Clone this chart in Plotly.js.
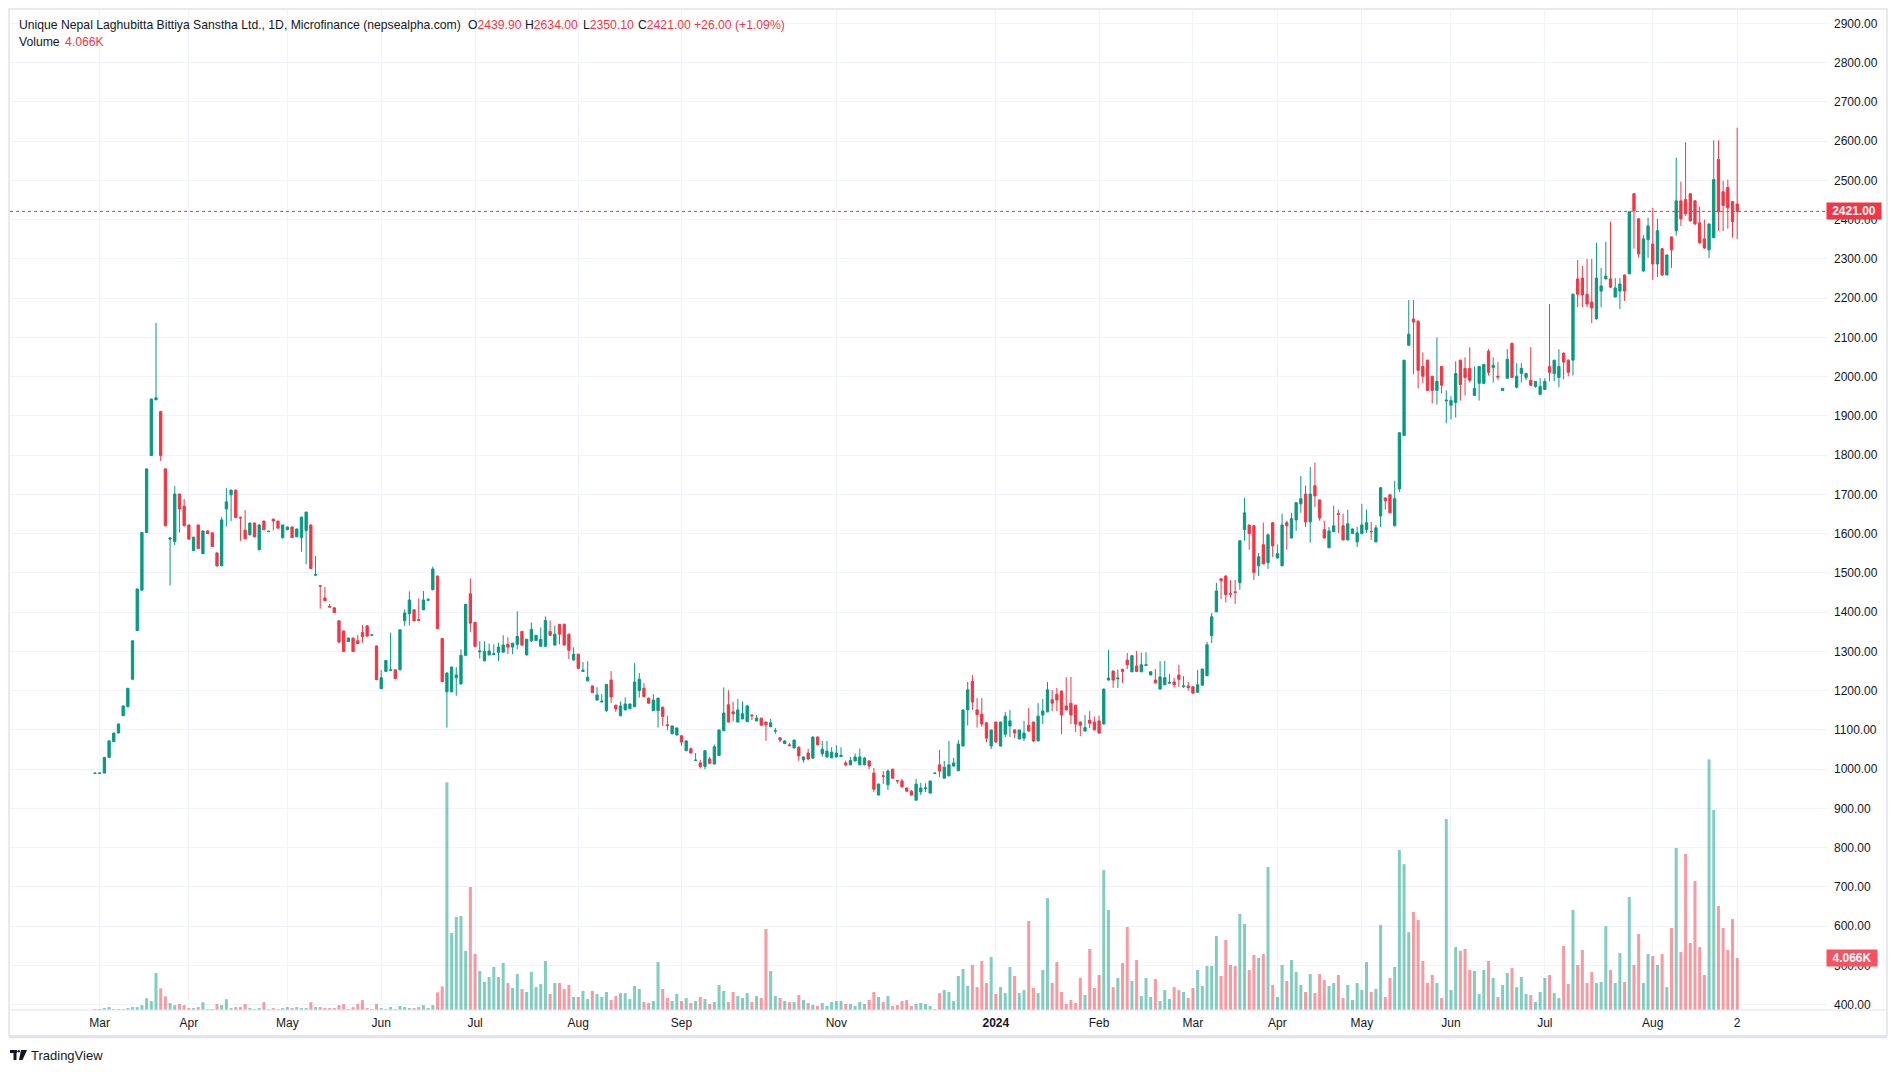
<!DOCTYPE html>
<html><head><meta charset="utf-8">
<script src="https://cdn.plot.ly/plotly-3.0.1.min.js"></script>
<style>html,body{margin:0;padding:0;background:#fff;}#chart{width:1897px;height:1072px;}</style>
</head><body><div id="chart"></div><script>
// ---- data (daily candles, volume in thousands) ----
const open=[989,989,990,1030,1070,1092,1136,1159,1229,1353,
1456,1603,1799,1941,1911,1765,1586,1580,1701,1670,
1622,1557,1622,1549,1607,1602,1551,1518,1663,1699,
1711,1642,1609,1597,1627,1559,1632,1605,1637,1632,
1590,1610,1617,1592,1590,1608,1622,1494,1467,1436,
1415,1411,1378,1352,1325,1334,1327,1348,1365,1341,
1314,1205,1249,1252,1253,1253,1378,1396,1406,1381,
1406,1430,1457,1492,1333,1197,1197,1233,1217,1290,
1447,1374,1299,1276,1291,1292,1298,1298,1318,1311,
1318,1351,1291,1327,1328,1313,1313,1351,1316,1369,
1369,1344,1278,1293,1249,1225,1212,1176,1171,1149,
1227,1163,1136,1151,1154,1159,1200,1206,1181,1149,
1149,1158,1113,1090,1087,1085,1047,1052,1022,1016,
1007,1026,1013,1035,1098,1164,1146,1120,1128,1121,
1138,1123,1130,1120,1108,1097,1080,1065,1062,1054,
1056,1024,1041,1028,1082,1039,1031,1029,1031,1032,
1016,1011,1021,1011,1011,1021,990,934,983,960,
1000,971,970,952,944,921,942,951,939,989,
1011,977,983,1008,996,1059,1151,1224,1151,1140,
1118,1059,1120,1059,1089,1110,1100,1077,1079,1112,
1120,1072,1138,1146,1177,1191,1199,1161,1168,1163,
1120,1097,1125,1120,1123,1115,1227,1250,1230,1254,
1278,1248,1263,1248,1264,1240,1227,1204,1215,1219,
1222,1240,1210,1212,1210,1196,1214,1238,1340,1401,
1485,1492,1447,1452,1475,1610,1622,1620,1518,1572,
1526,1628,1538,1518,1628,1589,1635,1676,1701,1630,
1722,1686,1610,1564,1605,1651,1620,1584,1600,1579,
1600,1610,1606,1579,1645,1691,1699,1620,1714,1850,
2080,2147,2141,2026,2042,2001,1965,2026,1938,1927,
1934,2042,2021,2021,1952,1983,1983,2065,2023,2001,
1965,1996,2085,1973,2008,1998,1991,1975,1955,1967,
2026,2008,1998,2060,2042,2042,2249,2251,2210,2190,
2147,2218,2249,2249,2203,2218,2259,2262,2466,2402,
2269,2349,2338,2287,2326,2259,2356,2372,2448,2451,
2466,2448,2392,2351,2323,2354,2553,2471,2482,2446,
2439.9];
const high=[990,990,1031,1073,1093,1116,1162,1207,1328,1460,
1604,1766,1944,2137,1913,1766,1590,1721,1702,1688,
1623,1592,1623,1608,1608,1603,1552,1642,1716,1712,
1712,1643,1660,1628,1628,1625,1633,1607,1638,1633,
1623,1618,1618,1613,1643,1656,1623,1543,1468,1464,
1421,1412,1379,1353,1335,1335,1342,1367,1367,1343,
1315,1253,1277,1348,1254,1355,1407,1453,1407,1435,
1454,1436,1516,1493,1334,1246,1261,1260,1305,1420,
1486,1375,1326,1326,1320,1318,1322,1341,1336,1321,
1402,1352,1331,1374,1341,1361,1389,1379,1366,1370,
1371,1345,1310,1294,1273,1275,1213,1209,1191,1216,
1250,1164,1172,1183,1167,1270,1245,1219,1182,1191,
1182,1159,1136,1111,1106,1086,1073,1055,1041,1024,
1047,1031,1063,1100,1208,1201,1172,1179,1172,1164,
1139,1138,1131,1121,1128,1105,1081,1073,1067,1075,
1058,1032,1052,1083,1083,1072,1072,1056,1061,1056,
1022,1031,1040,1052,1031,1022,1003,963,995,1000,
1001,972,975,953,947,975,965,964,970,990,
1049,1021,1072,1029,1074,1151,1222,1240,1181,1181,
1119,1100,1121,1121,1146,1151,1101,1100,1123,1156,
1121,1168,1179,1222,1202,1207,1200,1234,1235,1164,
1121,1138,1148,1134,1136,1205,1304,1251,1254,1256,
1296,1291,1301,1297,1298,1250,1255,1275,1276,1242,
1233,1266,1237,1222,1211,1253,1256,1324,1398,1475,
1486,1494,1482,1482,1582,1691,1623,1621,1551,1628,
1600,1629,1572,1651,1633,1653,1679,1747,1722,1770,
1781,1687,1633,1617,1671,1661,1651,1661,1613,1617,
1676,1661,1630,1622,1719,1692,1700,1735,1858,2042,
2195,2195,2144,2062,2043,2002,2100,2027,1965,1950,
2039,2043,2049,2075,2026,2026,2031,2070,2049,2037,
1971,2070,2086,2034,2034,2009,2075,1989,1996,1996,
2185,2042,2070,2061,2044,2211,2297,2282,2300,2300,
2341,2277,2343,2395,2251,2251,2260,2421,2467,2403,
2361,2405,2430,2402,2327,2311,2357,2558,2497,2597,
2467,2449,2433,2400,2390,2602,2602,2499,2502,2447,
2634];
const low=[989,989,990,1030,1070,1092,1136,1159,1229,1353,
1456,1603,1799,1940,1785,1619,1468,1571,1603,1619,
1585,1556,1561,1548,1599,1566,1516,1517,1618,1632,
1640,1582,1586,1596,1591,1558,1609,1604,1608,1613,
1587,1609,1589,1591,1554,1522,1510,1493,1409,1428,
1412,1398,1320,1299,1324,1299,1319,1322,1338,1340,
1227,1204,1248,1251,1230,1252,1365,1366,1377,1377,
1405,1429,1456,1357,1222,1106,1196,1187,1216,1289,
1349,1310,1282,1275,1290,1290,1276,1297,1293,1293,
1305,1313,1290,1324,1327,1312,1312,1340,1315,1318,
1315,1280,1277,1254,1248,1224,1194,1175,1170,1146,
1169,1146,1135,1150,1153,1158,1182,1184,1167,1148,
1106,1110,1099,1089,1086,1060,1046,1040,1021,1002,
1000,1014,1012,1034,1097,1119,1122,1119,1127,1120,
1125,1122,1111,1072,1107,1090,1068,1064,1058,1053,
1021,1017,1023,1027,1061,1032,1030,1028,1030,1031,
1007,1010,1020,1010,1010,1000,942,933,962,947,
976,963,953,942,933,920,934,942,938,988,
980,976,982,1007,995,1058,1111,1151,1106,1108,
1069,1051,1068,1058,1082,1082,1079,1076,1072,1096,
1069,1071,1115,1145,1148,1148,1089,1150,1115,1095,
1084,1096,1105,1099,1091,1114,1226,1207,1207,1219,
1255,1247,1248,1247,1263,1239,1218,1203,1214,1218,
1208,1210,1207,1200,1191,1195,1213,1237,1321,1400,
1433,1425,1437,1421,1457,1582,1559,1482,1492,1522,
1510,1541,1537,1517,1559,1588,1607,1653,1617,1577,
1668,1633,1588,1563,1604,1602,1583,1583,1599,1566,
1599,1602,1584,1578,1617,1661,1652,1619,1706,1849,
2079,2006,1970,1983,1964,1932,1929,1957,1881,1891,
1896,1939,1952,1985,1951,1939,1982,2003,1985,1991,
1964,1995,1997,1970,1985,1991,1977,1972,1954,1966,
1988,1988,1973,1993,2001,2003,2177,2177,2177,2136,
2146,2177,2248,2226,2202,2172,2193,2261,2326,2303,
2268,2303,2246,2254,2257,2258,2277,2359,2384,2410,
2395,2387,2339,2325,2302,2353,2371,2371,2377,2354,
2350.1];
const close=[990,990,1030,1072,1092,1115,1161,1206,1327,1459,
1603,1765,1943,1946,1799,1620,1589,1701,1663,1620,
1586,1591,1562,1607,1600,1567,1518,1635,1681,1711,
1641,1640,1587,1627,1592,1622,1610,1606,1632,1614,
1622,1617,1590,1612,1642,1655,1511,1496,1466,1429,
1413,1399,1324,1300,1334,1300,1320,1338,1339,1342,
1228,1233,1277,1253,1231,1355,1398,1431,1378,1379,
1431,1432,1510,1358,1223,1245,1260,1240,1290,1420,
1372,1313,1301,1300,1301,1294,1311,1316,1311,1321,
1338,1316,1331,1356,1341,1331,1379,1341,1344,1344,
1316,1303,1293,1257,1252,1234,1195,1189,1173,1216,
1184,1154,1161,1166,1166,1222,1229,1185,1168,1176,
1181,1134,1111,1110,1105,1069,1072,1041,1023,1007,
1047,1015,1057,1100,1143,1120,1141,1151,1141,1161,
1136,1130,1112,1113,1118,1098,1074,1072,1060,1074,
1034,1031,1026,1082,1062,1051,1046,1043,1041,1035,
1011,1022,1031,1031,1028,1008,949,962,982,995,
977,970,955,944,934,962,952,952,970,990,
995,1005,1011,1016,1064,1151,1202,1171,1139,1115,
1079,1100,1069,1120,1135,1123,1092,1100,1092,1097,
1072,1135,1148,1202,1168,1176,1138,1151,1138,1115,
1112,1106,1117,1100,1092,1204,1232,1227,1232,1249,
1266,1289,1249,1266,1266,1248,1220,1235,1233,1221,
1215,1229,1212,1208,1194,1215,1255,1317,1388,1454,
1480,1445,1446,1450,1582,1653,1600,1501,1541,1523,
1597,1569,1549,1622,1620,1638,1679,1689,1630,1701,
1696,1640,1589,1607,1620,1649,1584,1625,1612,1602,
1622,1628,1605,1615,1717,1684,1653,1689,1857,2042,
2108,2139,2016,2001,1965,1965,1988,1978,1940,1939,
2008,1980,1998,1991,1970,2026,2031,2011,2029,1999,
1970,2044,1998,2001,2021,2008,1978,1988,1975,1988,
2011,2042,2026,2037,2011,2210,2210,2208,2185,2175,
2251,2231,2256,2228,2226,2236,2218,2420,2423,2313,
2351,2384,2287,2372,2259,2310,2323,2448,2402,2415,
2397,2389,2341,2328,2389,2502,2420,2436,2430,2395,
2421];
const volumeK=[0.08,0.08,0.15,0.23,0.08,0.08,0.08,0.15,0.23,0.23,
0.38,0.92,0.69,2.89,1.69,1.07,0.54,0.38,0.46,0.38,
0.15,0.15,0.23,0.61,0.08,0.08,0.46,0.38,0.84,0.15,
0.23,0.23,0.46,0.15,0.08,0.15,0.61,0.08,0.15,0.08,
0.15,0.23,0.15,0.23,0.15,0.15,0.61,0.23,0.23,0.15,
0.15,0.15,0.38,0.46,0.08,0.23,0.46,0.77,0.15,0.08,
0.46,0.15,0.08,0.23,0.08,0.31,0.23,0.15,0.15,0.23,
0.38,0.15,0.38,1.38,1.84,17.8,6.02,7.28,7.35,4.62,
9.62,4.38,3.05,2.19,2.58,3.36,2.58,3.68,2.11,1.72,
2.81,1.64,1.41,2.98,1.79,2.03,3.83,1.25,2.11,2.11,
1.64,1.96,1.02,1.02,1.49,0.86,1.49,1.25,1.02,1.41,
0.78,1.09,1.32,1.32,0.86,1.88,1.64,0.62,0.55,0.70,
3.75,1.64,0.94,0.70,1.25,0.70,0.94,0.55,0.70,1.02,
0.86,0.47,0.62,1.96,1.49,0.62,1.41,1.09,0.94,1.32,
0.62,1.09,0.94,6.33,3.05,1.09,0.94,0.70,0.62,0.62,
1.17,0.78,0.55,0.39,0.32,0.55,0.32,0.62,0.70,0.70,
0.47,0.47,0.32,0.62,0.47,0.78,1.41,1.02,0.62,1.09,
0.32,0.39,0.70,0.78,0.32,0.47,0.55,0.47,0.32,0.08,
1.32,1.56,1.41,0.70,2.66,3.21,1.88,3.52,1.79,3.83,
2.11,4.15,1.25,1.79,1.32,3.36,2.66,1.32,1.56,6.96,
1.72,1.32,3.13,8.75,2.11,3.75,1.41,0.47,0.78,0.55,
2.51,1.17,4.77,1.72,2.74,10.94,7.82,1.79,2.51,3.68,
6.49,2.27,3.91,1.09,2.51,1.02,2.43,0.70,1.56,0.86,
1.79,1.56,1.41,0.94,1.72,3.13,1.88,3.44,3.44,5.79,
2.66,5.47,3.52,3.44,7.51,6.73,3.13,4.30,4.07,4.38,
11.18,1.96,1.02,3.52,2.27,3.91,2.98,1.96,1.41,2.81,
1.32,2.81,2.34,1.88,2.11,2.74,0.94,1.96,0.78,2.11,
1.56,3.75,1.41,1.64,6.64,1.02,2.51,3.36,12.51,11.41,
6.09,7.66,7.04,3.83,2.11,2.74,2.11,0.94,14.93,1.56,
4.92,4.62,4.77,3.13,3.05,1.25,3.13,3.83,2.51,1.02,
1.96,2.89,3.28,1.79,2.58,1.25,1.17,0.62,1.41,2.51,
2.74,1.32,0.94,5.00,2.03,7.82,3.52,4.69,2.11,2.98,
2.11,2.19,6.56,3.13,2.11,4.45,2.19,8.83,3.52,5.94,
2.11,4.38,4.22,3.52,4.38,1.79,6.41,12.67,4.53,12.2,
5.24,10.09,4.92,2.74,19.6,15.64,8.13,6.41,4.69,7.11,
4.066];
const tickIdx=[1,20,41,61,81,103,125,158,192,214,234,252,270,289,309,332,350];
const tickLabels=['Mar','Apr','May','Jun','Jul','Aug','Sep','Nov','<b>2024</b>','Feb','Mar','Apr','May','Jun','Jul','Aug','2'];
const title='Unique Nepal Laghubitta Bittiya Sanstha Ltd., 1D, Microfinance (nepsealpha.com)';

// ---- chart ----
const n=close.length;
const idx=close.map((_,i)=>i);
const UP='#089981', DN='#F23645', TXT='#131722', GRID='#f0f3fa', BORDER='#e0e3eb';
const volColors=close.map((c,i)=>c>=open[i]?'rgba(8,153,129,0.5)':'rgba(242,54,69,0.5)');
const PL=10, PR=1827, PT=10, PB=1010;
const px=x=>(x-PL)/(PR-PL), py=y=>(PB-y)/(PB-PT);
const FONT='Liberation Sans, Arial, sans-serif';

const lastO=open[n-1], lastH=high[n-1], lastL=low[n-1], lastC=close[n-1];
const chg=lastC-close[n-2], pct=chg/close[n-2]*100;
const red=s=>`<span style="color:${DN}">${s}</span>`;
const sgn=v=>(v>=0?'+':'')+v.toFixed(2);

const traces=[
 {type:'bar',x:idx,y:volumeK,yaxis:'y',xaxis:'x',marker:{color:volColors,line:{width:0}},hoverinfo:'skip',showlegend:false},
 {type:'candlestick',x:idx,open:open,high:high,low:low,close:close,xaxis:'x',yaxis:'y2',
  increasing:{line:{color:UP,width:1},fillcolor:UP},decreasing:{line:{color:DN,width:1},fillcolor:DN},
  whiskerwidth:0,hoverinfo:'skip',showlegend:false}
];

const ann=[];
const A=(x,y,text,opt)=>ann.push(Object.assign({xref:'paper',yref:'paper',x:px(x),y:py(y),text:text,showarrow:false,
  xanchor:'left',yanchor:'middle',font:{family:FONT,size:12.2,color:TXT}},opt||{}));
A(17,25,title);
A(466,25,'O'+red(lastO.toFixed(2)));
A(523,25,'H'+red(lastH.toFixed(2)));
A(581,25,'L'+red(lastL.toFixed(2)));
A(636,25,'C'+red(lastC.toFixed(2)));
A(692,25,red(sgn(chg)+' ('+sgn(pct)+'%)'));
A(17,42,'Volume');
A(63,42,red(volumeK[n-1].toFixed(3)+'K'));
A(29,1055,'TradingView',{font:{family:FONT,size:13,color:TXT}});
// last price / volume labels on the scale
ann.push({xref:'paper',yref:'y2',x:px(1826),y:lastC,text:'<b>'+lastC.toFixed(2)+'</b>',showarrow:false,xanchor:'left',yanchor:'middle',
  bgcolor:DN,font:{family:FONT,size:12,color:'#fff'},width:51,height:13,borderpad:1.5,align:'center'});
ann.push({xref:'paper',yref:'y',x:px(1826),y:volumeK[n-1],text:'<b>'+volumeK[n-1].toFixed(3)+'K</b>',showarrow:false,xanchor:'left',yanchor:'middle',
  bgcolor:'#f7525f',font:{family:FONT,size:12,color:'#fff'},width:47,height:13,borderpad:1.5,align:'center'});

const shapes=[
 {type:'line',xref:'paper',yref:'y2',x0:0,x1:1,y0:lastC,y1:lastC,line:{color:DN,width:1,dash:'dot'}},
 {type:'rect',xref:'paper',yref:'paper',x0:px(9),x1:px(1887),y0:py(9),y1:py(1036),line:{color:BORDER,width:1.5},layer:'below'},
 {type:'line',xref:'paper',yref:'paper',x0:px(9),x1:px(1887),y0:py(1037),y1:py(1037),line:{color:BORDER,width:2.5}},
 {type:'line',xref:'paper',yref:'paper',x0:px(9),x1:px(1887),y0:py(1010),y1:py(1010),line:{color:BORDER,width:1}},
 // TradingView logo mark
 {type:'rect',xref:'paper',yref:'paper',x0:px(10),x1:px(17),y0:py(1050),y1:py(1053),fillcolor:TXT,line:{width:0}},
 {type:'rect',xref:'paper',yref:'paper',x0:px(13.5),x1:px(16.5),y0:py(1050),y1:py(1060),fillcolor:TXT,line:{width:0}},
 {type:'circle',xref:'paper',yref:'paper',x0:px(17.5),x1:px(20),y0:py(1050),y1:py(1052.5),fillcolor:TXT,line:{width:0}},
 {type:'path',xref:'paper',yref:'paper',path:`M ${px(21)} ${py(1050)} L ${px(27)} ${py(1050)} L ${px(22.5)} ${py(1060)} L ${px(19)} ${py(1060)} Z`,fillcolor:TXT,line:{width:0}}
];

const layout={
 width:1897,height:1072,margin:{l:PL,r:1897-PR,t:PT,b:1072-PB},
 paper_bgcolor:'#fff',plot_bgcolor:'#fff',showlegend:false,
 font:{family:FONT,size:12,color:TXT},
 bargap:0.36,boxgap:0.3,boxgroupgap:0.3,
 xaxis:{type:'linear',range:[(PL-95)/4.692,(PR-95)/4.692],tickvals:tickIdx,ticktext:tickLabels,
   showgrid:true,gridcolor:GRID,gridwidth:1,zeroline:false,showline:false,ticks:'',ticklabelstandoff:4,
   tickfont:{family:FONT,size:12,color:TXT},rangeslider:{visible:false},fixedrange:true},
 yaxis:{range:[0,78.2],visible:false,fixedrange:true},
 yaxis2:{overlaying:'y',side:'right',range:[386.4,2934.1],tick0:0,dtick:100,tickformat:'.2f',
   showgrid:true,gridcolor:GRID,gridwidth:1,zeroline:false,showline:false,ticks:'',ticklabelstandoff:6,
   tickfont:{family:FONT,size:12,color:TXT},fixedrange:true},
 annotations:ann,shapes:shapes
};
Plotly.newPlot('chart',traces,layout,{displayModeBar:false,staticPlot:true});
</script></body></html>
